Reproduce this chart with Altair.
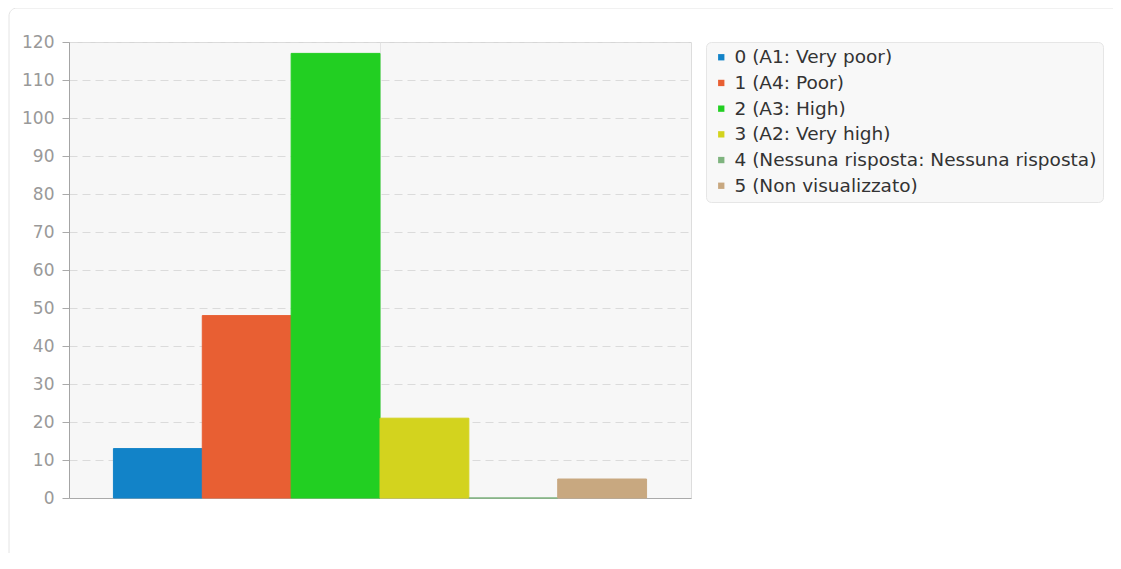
import altair as alt
import pandas as pd

categories = [
    "0 (A1: Very poor)",
    "1 (A4: Poor)",
    "2 (A3: High)",
    "3 (A2: Very high)",
    "4 (Nessuna risposta: Nessuna risposta)",
    "5 (Non visualizzato)",
]
counts = [13, 48, 117, 21, 0, 5]
colors = ["#1283c8", "#e85f33", "#22cf22", "#d3d31e", "#7fb47f", "#c8a880"]

df = pd.DataFrame({"grp": ["" for _ in categories], "cat": categories, "n": counts})

W, H = 622, 456
FONT = "DejaVu Sans"

color_scale = alt.Scale(domain=categories, range=colors)

card = alt.Chart(pd.DataFrame({"a": [0]})).mark_rect(
    fill="white", fillOpacity=0, stroke="#e4e4e4", strokeWidth=1, cornerRadius=8
).encode(
    x=alt.value(-60), x2=alt.value(W + 480), y=alt.value(-34), y2=alt.value(H + 200)
)

bg = alt.Chart(pd.DataFrame({"a": [0]})).mark_rect(fill="#000000", fillOpacity=0.03).encode(
    x=alt.value(0), x2=alt.value(W), y=alt.value(0), y2=alt.value(H)
)

bars = alt.Chart(df).mark_bar(strokeWidth=1).encode(
    x=alt.X(
        "grp:N",
        title=None,
        scale=alt.Scale(paddingInner=0, paddingOuter=0),
        axis=alt.Axis(
            labels=False, ticks=False, domain=True, domainColor="#aaaaaa",
            grid=True, gridColor="#ececec", gridDash=[], title=None,
        ),
    ),
    xOffset=alt.XOffset(
        "cat:N", sort=categories,
        scale=alt.Scale(paddingInner=0, paddingOuter=0.5),
    ),
    y=alt.Y(
        "n:Q",
        title=None,
        scale=alt.Scale(domain=[0, 120], nice=False),
        axis=alt.Axis(
            values=list(range(0, 121, 10)), grid=True, gridColor="#e3e3e3",
            gridDash=[8, 5], domainColor="#aaaaaa", tickColor="#aaaaaa", tickSize=7,
            labelColor="#999999", labelFontSize=17, labelFont=FONT, labelPadding=8,
        ),
    ),
    color=alt.Color(
        "cat:N", sort=categories, scale=color_scale,
        legend=alt.Legend(
            title=None, orient="none", legendX=637, legendY=0,
            symbolType="square", symbolSize=40, symbolStrokeWidth=0,
            labelFont=FONT, labelFontSize=18.5, labelColor="#333333", labelLimit=500,
            labelOffset=4, rowPadding=6.7, padding=6,
            fillColor="#f8f8f8", strokeColor="#e6e6e6", cornerRadius=5,
        ),
    ),
    stroke=alt.Stroke("cat:N", sort=categories, scale=color_scale, legend=None),
)

chart = alt.layer(card, bg, bars).properties(
    width=W, height=H,
    autosize=alt.AutoSizeParams(type="none"),
    padding={"left": 61, "top": 34, "right": 422, "bottom": 55},
).configure_view(stroke=None).configure(background="white")

chart.save("out.html", embed_options={"renderer": "svg", "actions": False})
